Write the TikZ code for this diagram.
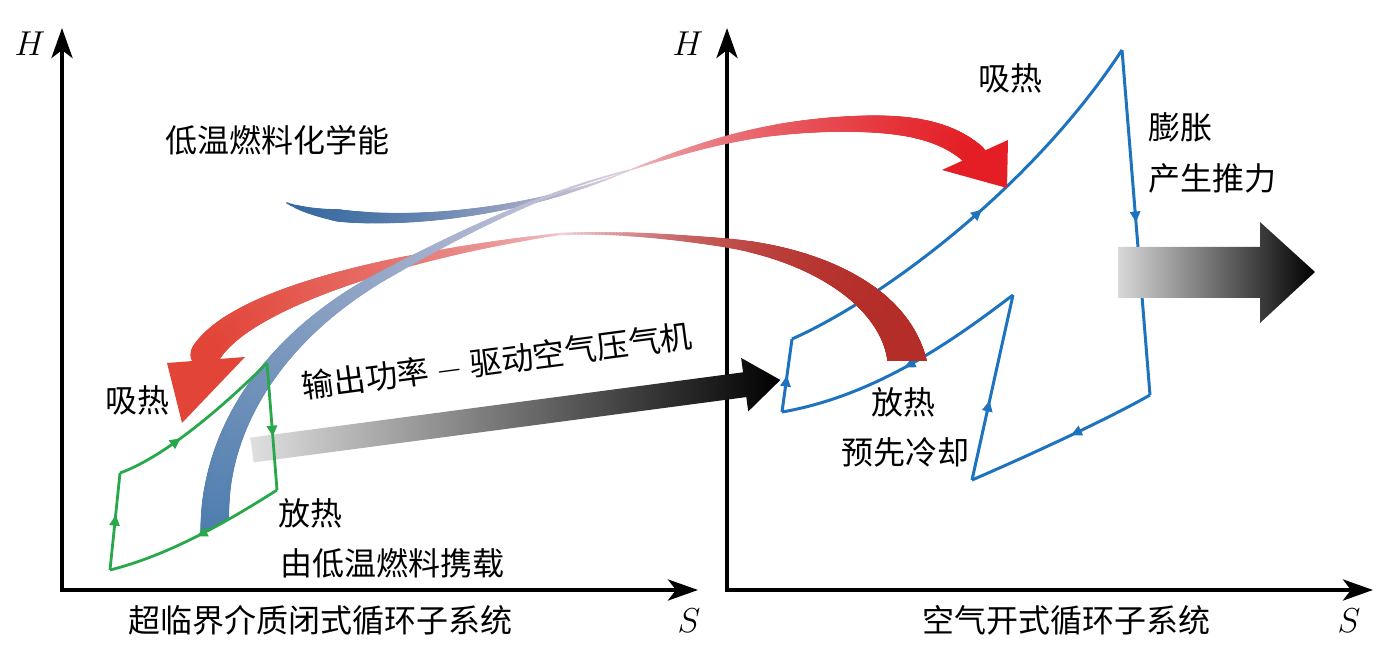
\documentclass[tikz,border=0pt]{standalone}
\usepackage{fontspec}
\newfontfamily\cjk{Noto Sans CJK SC}
\usetikzlibrary{arrows.meta,decorations.markings}
\definecolor{cgreen}{RGB}{40,168,75}
\definecolor{cblue}{RGB}{30,115,190}
\definecolor{bandblue}{RGB}{55,105,160}
\definecolor{bandsteel}{RGB}{72,122,172}
\definecolor{palepink}{RGB}{240,214,222}
\definecolor{palegray}{RGB}{212,204,222}
\definecolor{hotred}{RGB}{228,30,36}
\definecolor{warmred}{RGB}{226,68,55}
\definecolor{darkred}{RGB}{180,45,40}
\newcommand\gband[5]{%
  \path[decoration={markings, mark=between positions 0 and 1 step 0.7pt with {%
    \pgfmathsetmacro\gT{min(1,max(0,\pgfkeysvalueof{/pgf/decoration/mark info/distance from start}/\pgfdecoratedpathlength))}%
    \pgfmathsetmacro\gP{min(100,max(0,#3))}%
    \pgfmathsetmacro\gW{0.25*(#4)}%
    \fill[#2!\gP!#1] (0,0) circle[radius=\gW pt];}}, decorate] #5;%
}
\tikzset{
  axisline/.style={line width=2.2pt, line join=miter, {Stealth[length=15pt,width=10.5pt,inset=4pt]}-{Stealth[length=15pt,width=10.5pt,inset=4pt]}},
  gline/.style={draw=cgreen, line width=1.4pt, line join=round},
  bline/.style={draw=cblue, line width=1.5pt, line join=round},
  midarr/.style={postaction={decorate,decoration={markings,mark=at position #1 with {\arrow{Triangle[length=5.5pt,width=5pt]}}}}},
  lbl/.style={inner sep=0pt, anchor=center},
  mathlbl/.style={inner sep=0pt, anchor=center, font=\fontsize{17}{20}\selectfont}
}
\begin{document}
\begin{tikzpicture}[x=0.5pt, y=-0.5pt, font=\cjk\fontsize{16}{18}\selectfont]
\useasboundingbox (0,0) rectangle (1382,651);

% axes
\coordinate (y1) at (62,28);  \coordinate (o1) at (62,590);  \coordinate (x1) at (698,590);
\coordinate (y2) at (727,28); \coordinate (o2) at (727,590); \coordinate (x2) at (1373,590);
\draw[axisline] (y1) -- (o1) -- (x1);
\draw[axisline] (y2) -- (o2) -- (x2);
\node[mathlbl] (H1) at (30,44) {$H$};
\node[mathlbl] (H2) at (688,44) {$H$};
\node[mathlbl] (S1) at (689,621) {$S$};
\node[mathlbl] (S2) at (1349,621) {$S$};

% blue open cycle
\coordinate (q1) at (782,412); \coordinate (q2) at (792,339); \coordinate (q3) at (1122,50);
\coordinate (q4) at (1150,395); \coordinate (q5) at (972,480); \coordinate (q6) at (1013,295);
\draw[bline, midarr=0.5] (q1) -- (q2);
\draw[bline, midarr=0.52] (q2) .. controls (880,300) and (1030,190) .. (q3);
\draw[bline, midarr=0.5] (q3) -- (q4);
\draw[bline, midarr=0.45] (q4) .. controls (1110,418) and (1030,455) .. (q5);
\draw[bline, midarr=0.43] (q5) -- (q6);
\draw[bline, midarr=0.5] (q6) .. controls (960,335) and (880,395) .. (q1);

% grey gradient arrows
\begin{scope}[shift={(252,450)}, rotate=7.55]
  \shade[left color=gray!25, right color=black] (0,-12.5) -- (497,-12.5) -- (497,-27) -- (533,0) -- (497,27) -- (497,12.5) -- (0,12.5) -- cycle;
\end{scope}
\shade[left color=gray!30, right color=black] (1118,247) -- (1260,247) -- (1260,222) -- (1315,272) -- (1260,323) -- (1260,298) -- (1118,298) -- cycle;

% lower band: heat released by air cycle -> heat absorbed by closed cycle
\begin{scope}
  \clip (0,0) rectangle (1382,361);
  \gband{darkred}{palepink}{100*\gT^3}{3+37*(1-\gT)^2}{(908,368) .. controls (900,300) and (820,255) .. (727,243) .. controls (660,235) and (610,232) .. (560,234)}
\end{scope}
\gband{palepink}{warmred}{100*sqrt(\gT)}{3+27*\gT^1.3}{(560,234) .. controls (420,252) and (240,295) .. (205,355)}
\fill[warmred] (167,363) -- (245,357) -- (182,423) -- cycle;

% upper band: fuel chemical energy + fuel carried heat -> heat absorbed by air cycle
\gband{bandblue}{palepink}{100*\gT^1.5}{ifthenelse(\gT<0.15, 2+70*\gT, 12.5-11*(\gT-0.15)/0.85)}{(287,203) .. controls (340,228) and (500,225) .. (630,170)}
\begin{scope}
  \clip (0,0) -- (1382,0) -- (1382,490) -- (277,490) .. controls (230,520) and (170,555) .. (110,570) -- (0,570) -- cycle;
  \gband{bandsteel}{palegray}{100*\gT}{2+28*(1-\gT)^1.5}{(216,545) .. controls (205,430) and (280,330) .. (390,272) .. controls (470,228) and (550,190) .. (630,170)}
\end{scope}
\gband{palepink}{hotred}{100*sqrt(\gT)}{2+22*\gT}{(630,170) .. controls (700,145) and (760,126) .. (850,124) .. controls (900,123) and (945,128) .. (975,156)}
\fill[hotred] (1008,140) -- (942,170) -- (1007,188) -- cycle;

% green closed cycle
\coordinate (g1) at (267,363); \coordinate (g2) at (277,490);
\coordinate (g3) at (110,570); \coordinate (g4) at (120,473);
\draw[gline, midarr=0.58] (g1) -- (g2);
\draw[gline, midarr=0.5] (g2) .. controls (230,520) and (170,555) .. (g3);
\draw[gline, midarr=0.57] (g3) -- (g4);
\draw[gline, midarr=0.38] (g4) .. controls (170,455) and (235,395) .. (g1);

% labels
\node[lbl] (t1) at (277,140) {低温燃料化学能};
\node[lbl] (t2) at (137,400) {吸热};
\node[lbl, rotate=7.55] (t3) at (497,361) {输出功率 $-$ 驱动空气压气机};
\node[lbl] (t4) at (310,513) {放热};
\node[lbl] (t5) at (392,563) {由低温燃料携载};
\node[lbl] (t6) at (1010,78) {吸热};
\node[lbl, anchor=west] (t7) at (1148,127) {膨胀};
\node[lbl, anchor=west] (t8) at (1148,178) {产生推力};
\node[lbl] (t9) at (903,402) {放热};
\node[lbl] (t10) at (905,452) {预先冷却};
\node[lbl] (t11) at (320,620) {超临界介质闭式循环子系统};
\node[lbl] (t12) at (1066,620) {空气开式循环子系统};
\end{tikzpicture}
\end{document}
